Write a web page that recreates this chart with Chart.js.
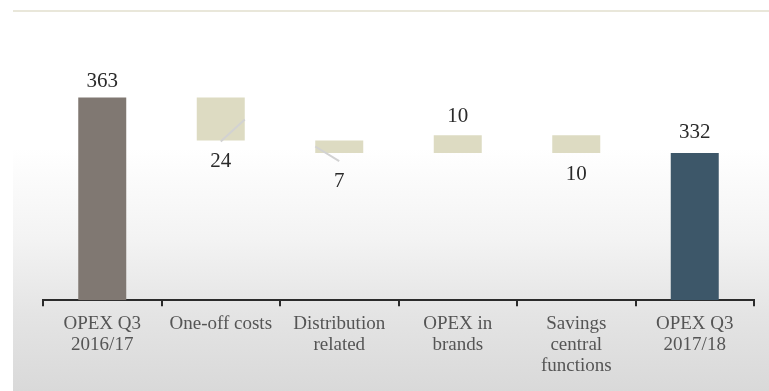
<!DOCTYPE html>
<html>
<head>
<meta charset="utf-8">
<script src="https://cdn.jsdelivr.net/npm/chart.js@4.4.1/dist/chart.umd.min.js"></script>
<style>
  html, body { margin: 0; padding: 0; background: #ffffff; }
  #wrap { position: relative; width: 769px; height: 391px; overflow: hidden; }
  #panel { position: absolute; left: 13px; top: 12px; width: 756px; height: 379px;
    background: linear-gradient(to bottom, #ffffff 0%, #ffffff 36%, #f3f3f3 60%, #e4e4e4 80%, #d9d9d9 100%); }
  #rule { position: absolute; left: 13px; top: 10px; width: 756px; height: 2px; background: #e9e7da; }
  #c { position: absolute; left: 0; top: 0; }
</style>
</head>
<body>
<div id="wrap">
  <div id="panel"></div>
  <div id="rule"></div>
  <canvas id="c" width="769" height="391"></canvas>
</div>
<script>
// ---- data ----
const categories = [
  ["OPEX Q3", "2016/17"],
  ["One-off costs"],
  ["Distribution", "related"],
  ["OPEX in", "brands"],
  ["Savings", "central", "functions"],
  ["OPEX Q3", "2017/18"]
];
const startValue = 363;
const changes = [-24, -7, 10, -10];
const endValue = 332;
const axisMin = 250;
const axisMax = 400;

// ---- styles ----
const totalStartColor = "#807872";
const totalEndColor = "#3d5769";
const changeColor = "#dddbc2";
const labelBaselineGap = [10, 26, 34, 13, 27, 15];

// build floating ranges from the values
const ranges = [[axisMin, startValue]];
const labelTexts = [String(startValue)];
const isAbove = [true];
let running = startValue;
for (const c of changes) {
  const next = running + c;
  ranges.push([running, next]);
  labelTexts.push(String(Math.abs(c)));
  isAbove.push(c > 0);
  running = next;
}
ranges.push([axisMin, endValue]);
labelTexts.push(String(endValue));
isAbove.push(true);

const colors = ranges.map((r, i) => i === 0 ? totalStartColor : (i === ranges.length - 1 ? totalEndColor : changeColor));

const waterfallLabels = {
  id: "waterfallLabels",
  afterDatasetsDraw(chart) {
    const ctx = chart.ctx;
    const meta = chart.getDatasetMeta(0);
    ctx.save();
    // leader lines
    ctx.strokeStyle = "#d2d2d2";
    ctx.lineWidth = 2;
    meta.data.forEach((el, i) => {
      const top = Math.min(el.y, el.base), bottom = Math.max(el.y, el.base);
      const half = el.width / 2;
      if (i === 1) {
        ctx.beginPath();
        ctx.moveTo(el.x, bottom + 1);
        ctx.lineTo(el.x + half, bottom - 21);
        ctx.stroke();
      } else if (i === 2) {
        ctx.beginPath();
        ctx.moveTo(el.x - half, top + 6);
        ctx.lineTo(el.x, bottom + 8);
        ctx.stroke();
      }
    });
    // value labels
    ctx.font = "21px 'Liberation Serif', serif";
    ctx.fillStyle = "#2a2a2a";
    ctx.textAlign = "center";
    ctx.textBaseline = "alphabetic";
    meta.data.forEach((el, i) => {
      const top = Math.min(el.y, el.base), bottom = Math.max(el.y, el.base);
      const y = isAbove[i] ? top - labelBaselineGap[i] : bottom + labelBaselineGap[i];
      ctx.fillText(labelTexts[i], el.x, y);
    });
    ctx.restore();
  }
};

new Chart(document.getElementById("c"), {
  type: "bar",
  data: {
    labels: categories,
    datasets: [{
      data: ranges,
      backgroundColor: colors,
      borderWidth: 0,
      barPercentage: 0.9,
      categoryPercentage: 0.45
    }]
  },
  options: {
    responsive: false,
    animation: false,
    devicePixelRatio: 1,
    layout: { padding: { left: 43, right: 15, top: 31, bottom: 8 } },
    plugins: { legend: { display: false }, tooltip: { enabled: false }, title: { display: false } },
    scales: {
      y: { display: false, min: axisMin, max: axisMax },
      x: {
        border: { display: true, color: "#2b2b2b", width: 2 },
        grid: { display: true, drawOnChartArea: false, drawTicks: true, tickLength: 6, color: "#2b2b2b", lineWidth: 2, offset: true },
        ticks: {
          color: "#555555",
          font: { family: "'Liberation Serif', serif", size: 19, lineHeight: 1.1 },
          padding: 7,
          maxRotation: 0,
          autoSkip: false
        }
      }
    }
  },
  plugins: [waterfallLabels]
});
</script>
</body>
</html>
